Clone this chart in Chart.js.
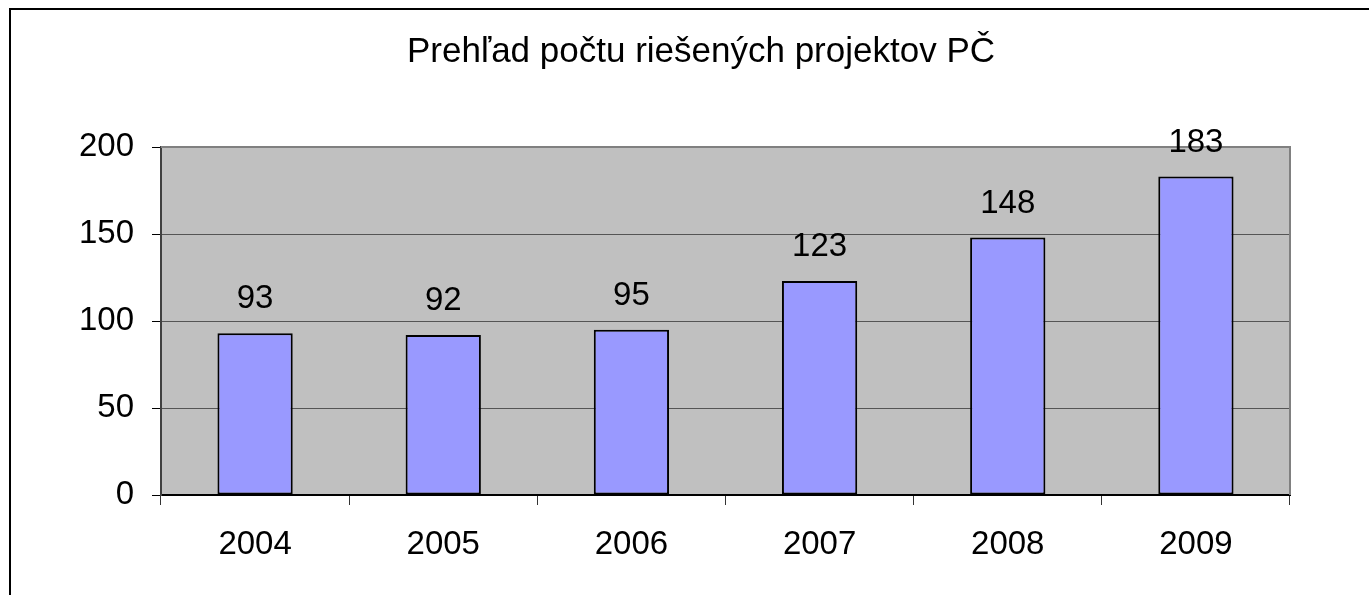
<!DOCTYPE html>
<html>
<head>
<meta charset="utf-8">
<title>Prehľad počtu riešených projektov PČ</title>
<script src="https://cdn.jsdelivr.net/npm/chart.js@4/dist/chart.umd.min.js"></script>
<style>
    html, body { margin: 0; padding: 0; background: #fff; overflow: hidden; }
    #wrap { position: relative; width: 1369px; height: 595px; }
    #chart { position: absolute; left: 0; top: 0; }
    #frame {
        position: absolute; left: 9px; top: 8px; width: 2000px; height: 2000px;
        border-left: 2px solid #000; border-top: 2px solid #000;
        pointer-events: none;
    }
</style>
</head>
<body>
<div id="wrap">
    <canvas id="chart" width="1369" height="595"></canvas>
    <div id="frame"></div>
</div>
<script>
// Chart data
const years = ['2004', '2005', '2006', '2007', '2008', '2009'];
const projects = [93, 92, 95, 123, 148, 183];
const yTicks = [0, 50, 100, 150, 200];

const FONT = '"Liberation Sans", Arial, sans-serif';

// Gray plot background plus top/right border of the plot area
const plotArea = {
    id: 'plotArea',
    beforeDraw(chart) {
        const { ctx, chartArea: a } = chart;
        ctx.save();
        ctx.fillStyle = '#C0C0C0';
        ctx.fillRect(a.left, a.top, a.right - a.left, a.bottom - a.top);
        ctx.restore();
    },
    afterDatasetsDraw(chart) {
        const { ctx, chartArea: a } = chart;
        ctx.save();
        ctx.strokeStyle = '#808080';
        ctx.lineWidth = 2;
        ctx.beginPath();
        ctx.moveTo(a.left, a.top);
        ctx.lineTo(a.right, a.top);
        ctx.lineTo(a.right, a.bottom);
        ctx.stroke();
        ctx.restore();
    }
};

// Value labels above each bar
const barLabels = {
    id: 'barLabels',
    afterDraw(chart) {
        const { ctx } = chart;
        const meta = chart.getDatasetMeta(0);
        ctx.save();
        ctx.font = '33px ' + FONT;
        ctx.fillStyle = '#000';
        ctx.textAlign = 'center';
        ctx.textBaseline = 'middle';
        meta.data.forEach((bar, i) => {
            ctx.fillText(String(projects[i]), bar.x, bar.y - 34);
        });
        ctx.restore();
    }
};

new Chart(document.getElementById('chart'), {
    type: 'bar',
    data: {
        labels: years,
        datasets: [{
            data: projects,
            backgroundColor: '#9999FF',
            borderColor: '#000',
            borderWidth: 2,
            borderSkipped: false,
            barPercentage: 0.4,
            categoryPercentage: 1
        }]
    },
    options: {
        responsive: false,
        animation: false,
        layout: { padding: { left: 79, right: 46, top: 0, bottom: 30 } },
        plugins: {
            legend: { display: false },
            tooltip: { enabled: false },
            title: {
                display: true,
                text: 'Prehľad počtu riešených projektov PČ',
                color: '#000',
                font: { family: FONT, size: 35, weight: 'normal', lineHeight: 1.2 },
                padding: { top: 31, bottom: 74 }
            }
        },
        scales: {
            x: {
                offset: true,
                grid: {
                    offset: true,
                    drawOnChartArea: false,
                    drawTicks: true,
                    tickLength: 10,
                    tickColor: '#333'
                },
                border: { color: '#000', width: 2 },
                ticks: {
                    color: '#000',
                    padding: 20,
                    maxRotation: 0,
                    font: { family: FONT, size: 33, lineHeight: 1.2 }
                },
                afterFit(scale) { scale.height = 70; }
            },
            y: {
                min: 0,
                max: 200,
                afterBuildTicks(scale) { scale.ticks = yTicks.map(v => ({ value: v })); },
                grid: {
                    color: '#555',
                    lineWidth: 1,
                    tickLength: 9,
                    tickColor: '#000'
                },
                border: { color: '#404040', width: 2 },
                ticks: {
                    color: '#000',
                    padding: 18,
                    font: { family: FONT, size: 33, lineHeight: 1.2 }
                },
                afterFit(scale) { scale.width = 82; }
            },
            // empty right-hand spacer so the title lines up with the original
            spacer: {
                type: 'linear',
                position: 'right',
                grid: { display: false },
                border: { display: false },
                ticks: { display: false },
                afterFit(scale) { scale.width = 33; }
            }
        }
    },
    plugins: [plotArea, barLabels]
});
</script>
</body>
</html>
